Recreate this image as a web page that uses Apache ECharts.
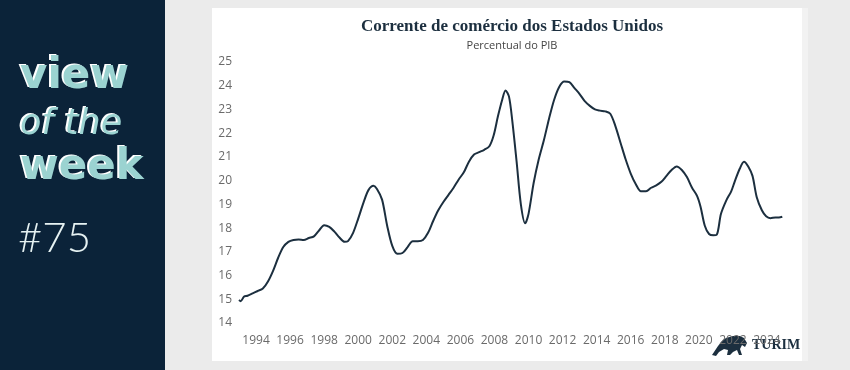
<!DOCTYPE html>
<html>
<head>
<meta charset="utf-8">
<script src="https://cdn.jsdelivr.net/npm/echarts@6/dist/echarts.min.js"></script>
<style>html,body{margin:0;padding:0;background:#ebebeb;}#c{width:850px;height:370px;}</style>
</head>
<body>
<div id="c"></div>
<script>
// Data (year, % of GDP)
const years = [1993.0,1993.1,1993.3,1993.5,1993.8,1994.1,1994.4,1994.7,1995.0,1995.3,1995.6,1995.9,1996.2,1996.5,1996.8,1997.1,1997.4,1997.7,1998.0,1998.3,1998.6,1998.9,1999.2,1999.4,1999.7,2000.0,2000.3,2000.6,2000.9,2001.1,2001.4,2001.7,2002.0,2002.3,2002.6,2002.9,2003.2,2003.5,2003.8,2004.1,2004.4,2004.7,2005.0,2005.3,2005.6,2005.9,2006.2,2006.5,2006.8,2007.1,2007.4,2007.7,2007.95,2008.2,2008.45,2008.65,2008.85,2009.05,2009.3,2009.55,2009.8,2010.0,2010.3,2010.6,2010.9,2011.2,2011.5,2011.8,2012.1,2012.4,2012.7,2013.0,2013.3,2013.6,2013.9,2014.2,2014.5,2014.8,2015.1,2015.4,2015.7,2016.0,2016.3,2016.6,2016.9,2017.2,2017.5,2017.8,2018.1,2018.4,2018.7,2019.0,2019.3,2019.6,2019.9,2020.1,2020.35,2020.6,2020.85,2021.05,2021.3,2021.6,2021.9,2022.1,2022.4,2022.65,2022.9,2023.15,2023.4,2023.7,2023.95,2024.2,2024.5,2024.7,2024.9];
const values = [14.97,14.92,15.12,15.15,15.25,15.35,15.45,15.75,16.2,16.75,17.2,17.42,17.5,17.52,17.5,17.58,17.65,17.9,18.12,18.05,17.85,17.6,17.42,17.45,17.8,18.4,19.05,19.6,19.78,19.65,19.2,18.1,17.25,16.92,16.95,17.2,17.45,17.45,17.5,17.8,18.3,18.75,19.1,19.4,19.7,20.05,20.35,20.8,21.1,21.2,21.3,21.45,21.9,22.7,23.4,23.8,23.55,22.5,20.8,19.0,18.2,18.6,19.9,20.9,21.7,22.6,23.4,23.95,24.18,24.15,23.9,23.65,23.35,23.15,23.0,22.95,22.92,22.82,22.3,21.6,20.9,20.3,19.85,19.55,19.55,19.7,19.8,19.95,20.2,20.45,20.6,20.45,20.15,19.7,19.35,18.9,18.1,17.75,17.7,17.72,18.6,19.15,19.55,19.95,20.5,20.8,20.6,20.2,19.3,18.75,18.5,18.42,18.45,18.45,18.48];
const xTickYears = [1994,1996,1998,2000,2002,2004,2006,2008,2010,2012,2014,2016,2018,2020,2022,2024];
const yTicks = [14,15,16,17,18,19,20,21,22,23,24,25];
const title = 'Corrente de comércio dos Estados Unidos';
const subtitle = 'Percentual do PIB';

const seriesData = years.map((y, i) => [y, values[i]]);
const chart = echarts.init(document.getElementById('c'), null, {renderer: 'canvas'});
const navy = '#1c2f3f';

const txt = (t, x, y, font, fill, z) => ({
  type: 'text', z: z, x: x, y: y,
  style: {text: t, font: font, fill: fill, align: 'left', verticalAlign: 'top'}
});
const bigText = (t, x, y, font) => ([
  txt(t, x, y, font, '#ffffff', -5),
  txt(t, x + 2, y + 1, font, '#9bd3d1', -4)
]);

chart.setOption({
  backgroundColor: '#ebebeb',
  animation: false,
  title: [
    {text: title, left: 507, top: 13, textAlign: 'center',
     textStyle: {fontFamily: 'Liberation Serif', fontWeight: 'bold', fontSize: 17, color: navy}},
    {text: subtitle, left: 507, top: 35, textAlign: 'center',
     textStyle: {fontFamily: 'Open Sans', fontWeight: 'normal', fontSize: 11, color: '#444'}}
  ],
  grid: {left: 239, right: 66, top: 62, bottom: 47},
  xAxis: {
    type: 'value', min: 1993, max: 2025, interval: 1,
    axisLine: {show: false}, axisTick: {show: false}, splitLine: {show: false},
    axisLabel: {
      margin: 12, color: '#6a6a6a', fontFamily: 'Open Sans', fontSize: 12,
      showMinLabel: false, showMaxLabel: false,
      formatter: v => xTickYears.indexOf(v) >= 0 ? String(v) : ''
    }
  },
  yAxis: {
    type: 'value', min: yTicks[0], max: yTicks[yTicks.length - 1], interval: 1,
    axisLine: {show: false}, axisTick: {show: false}, splitLine: {show: false},
    axisLabel: {margin: 7, color: '#6a6a6a', fontFamily: 'Open Sans', fontSize: 12,
      formatter: v => yTicks.indexOf(v) >= 0 ? String(v) : ''}
  },
  series: [{
    type: 'line', data: seriesData, showSymbol: false, smooth: 0.3,
    lineStyle: {color: navy, width: 2}, z: 5
  }],
  graphic: [
    {type: 'rect', z: -10, shape: {x: 0, y: 0, width: 165, height: 370}, style: {fill: '#0b2339'}},
    {type: 'rect', z: -10, shape: {x: 802, y: 8, width: 6, height: 353}, style: {fill: '#f2f2f2'}},
    {type: 'rect', z: -10, shape: {x: 212, y: 8, width: 590, height: 353}, style: {fill: '#ffffff'}},
    ...bigText('view', 18, 55, 'bold 42px "DejaVu Sans"'),
    ...bigText('of the', 18, 106, 'oblique 35px "DejaVu Sans"'),
    ...bigText('week', 18, 146, 'bold 42px "DejaVu Sans"'),
    txt('#75', 18, 217, '300 42px Lato', '#e6f2f2', -4),
    txt('TURIM', 752, 338, 'bold 14px "Liberation Serif"', navy, -4),
    {type: 'polygon', z: -4, shape: {points: [[712,355],[718,346],[722,341],[726,338],[733,336],[740,336],[744,338],[747,343],[745,347],[742,345],[740,349],[742,355],[739,355],[737,350],[733,352],[730,355],[727,355],[728,350],[724,349],[719,352],[716,356]]}, style: {fill: navy}}
  ]
});
</script>
</body>
</html>
